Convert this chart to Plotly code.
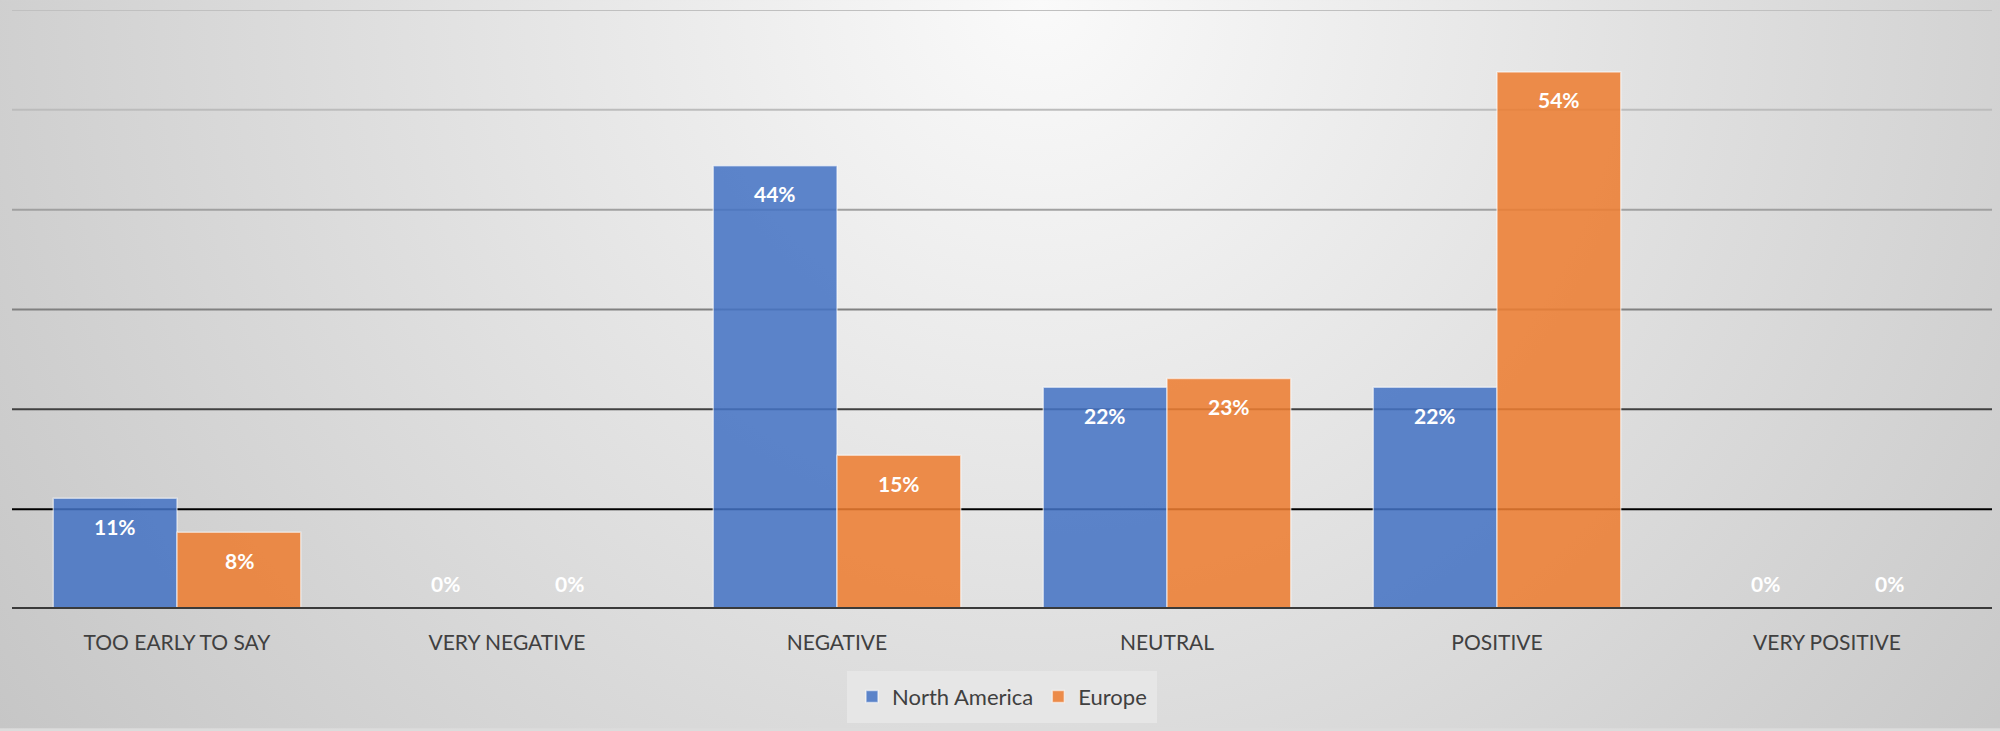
import base64
import plotly.graph_objects as go

categories = ["TOO EARLY TO SAY", "VERY NEGATIVE", "NEGATIVE", "NEUTRAL", "POSITIVE", "VERY POSITIVE"]
north_america = [11.1, 0, 44.4, 22.2, 22.2, 0]
europe = [7.7, 0, 15.4, 23.1, 53.8, 0]
series_names = ["North America", "Europe"]
gridline_values = [10, 20, 30, 40, 50, 60]
gridline_colors = ["#000000", "#404040", "#808080", "#a0a0a0", "#bcbcbc", "#c0c0c0"]

W, H = 2000, 731
ML, MR, MT, MB = 12, 8, 10, 120
PW, PH = W - ML - MR, H - MT - MB

blue = "rgba(68,114,196,0.86)"
orange = "rgba(237,125,49,0.87)"
label_font = dict(family="Lato", size=21, color="#404040")

fig = go.Figure()
for name, vals, col in [(series_names[0], north_america, blue), (series_names[1], europe, orange)]:
    fig.add_trace(go.Bar(
        x=categories, y=vals, name=name,
        marker=dict(color=col, line=dict(color="rgba(255,255,255,0.55)", width=1.5)),
        hoverinfo="skip",
    ))

# data labels
annotations = []
for vals, xs in [(north_america, -62), (europe, 62)]:
    for c, v in zip(categories, vals):
        annotations.append(dict(
            x=c, y=v, xref="x", yref="y", text=f"{round(v)}%", showarrow=False,
            xshift=xs, yshift=(-28 if v > 0 else 26), yanchor="middle",
            font=dict(family="Lato", size=21, color="white", weight="bold"),
        ))

shapes = []
for v, c in zip(gridline_values, gridline_colors):
    shapes.append(dict(type="line", xref="paper", yref="y", x0=0, x1=1, y0=v, y1=v,
                       line=dict(color=c, width=2), layer="below"))
shapes.append(dict(type="line", xref="paper", yref="y", x0=0, x1=1, y0=0, y1=0,
                   line=dict(color="#3a3a3a", width=4), layer="above"))

svg = ('<svg xmlns="http://www.w3.org/2000/svg" width="2000" height="731" viewBox="0 0 2000 731" '
       'preserveAspectRatio="none"><defs><radialGradient id="g" gradientUnits="userSpaceOnUse" '
       'cx="1040" cy="0" r="1271"><stop offset="0" stop-color="#fafafa"/>'
       '<stop offset="1" stop-color="#c6c6c6"/></radialGradient></defs>'
       '<rect width="2000" height="731" fill="url(#g)"/></svg>')
src = "data:image/svg+xml;base64," + base64.b64encode(svg.encode()).decode()

fig.update_layout(
    width=W, height=H,
    margin=dict(l=ML, r=MR, t=MT, b=MB, pad=0),
    paper_bgcolor="#dcdcdc", plot_bgcolor="rgba(0,0,0,0)",
    barmode="group", bargap=0.25, bargroupgap=0,
    showlegend=True,
    legend=dict(orientation="h", x=0.5, xanchor="center", y=-(673 - (H - MB)) / PH, yanchor="top",
                bgcolor="#e6e6e6", bordercolor="#e6e6e6", borderwidth=5,
                font=dict(family="Lato", size=22, color="#404040"),
                itemclick=False, itemdoubleclick=False),
    xaxis=dict(showgrid=False, zeroline=False, showline=False, ticks="",
               tickfont=label_font, ticklabelstandoff=19, fixedrange=True),
    yaxis=dict(range=[0, 60], showgrid=False, zeroline=False, showline=False,
               showticklabels=False, fixedrange=True),
    annotations=annotations,
    shapes=shapes,
    images=[dict(source=src, xref="paper", yref="paper", x=-ML / PW, y=1 + MT / PH,
                 sizex=W / PW, sizey=H / PH, sizing="stretch", xanchor="left", yanchor="top",
                 layer="below")],
)

fig.write_html("out.html", config={"displayModeBar": False},
               post_script="document.body.style.margin='0';document.body.style.overflow='hidden';")
